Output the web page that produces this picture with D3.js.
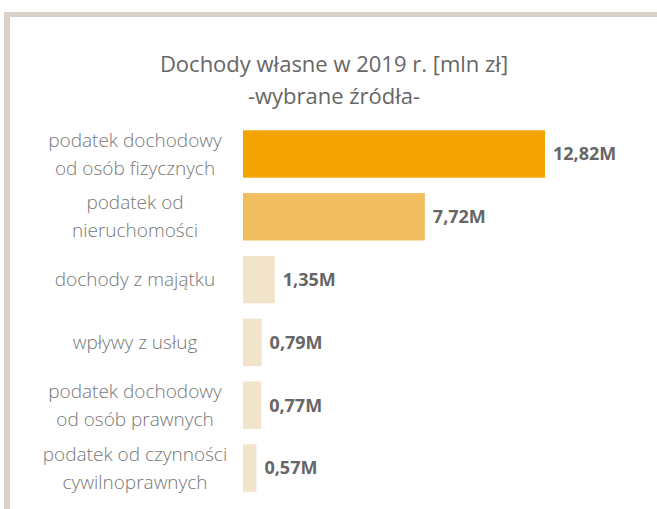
<!DOCTYPE html>
<html>
<head>
<meta charset="utf-8">
<script src="https://cdn.jsdelivr.net/npm/d3@7"></script>
<style>
  html, body { margin: 0; padding: 0; background: #fff; }
  svg { display: block; }
</style>
</head>
<body>
<div id="chart"></div>
<script>
// Own revenues 2019, selected sources (million PLN)
const categories = [
  ["podatek dochodowy", "od osób fizycznych"],
  ["podatek od", "nieruchomości"],
  ["dochody z majątku"],
  ["wpływy z usług"],
  ["podatek dochodowy", "od osób prawnych"],
  ["podatek od czynności", "cywilnoprawnych"]
];
const values = [12.82, 7.72, 1.35, 0.79, 0.77, 0.57];
const valueLabels = ["12,82M", "7,72M", "1,35M", "0,79M", "0,77M", "0,57M"];
const barColors = ["#f4a300", "#f1be5f", "#f2e4cb", "#f2e4cb", "#f2e4cb", "#f2e4cb"];
const titleLines = ["Dochody własne w 2019 r. [mln zł]", "-wybrane źródła-"];

const W = 657, H = 509;
const svg = d3.select("#chart").append("svg")
  .attr("width", W).attr("height", H);

// frame (top and left edges)
svg.append("rect").attr("x", 4).attr("y", 12).attr("width", W - 4).attr("height", 5).attr("fill", "#d8d1c8");
svg.append("rect").attr("x", 4).attr("y", 12).attr("width", 6).attr("height", H - 12).attr("fill", "#d8d1c8");

// title
svg.append("g").selectAll("text").data(titleLines).join("text")
  .attr("x", 334)
  .attr("y", (d, i) => 64 + i * 32)
  .attr("dy", "0.35em")
  .attr("text-anchor", "middle")
  .attr("font-family", "'Open Sans', sans-serif")
  .attr("font-size", 22)
  .attr("fill", "#666")
  .text(d => d);

const idx = d3.range(values.length);
const y = d3.scaleBand().domain(idx).range([124, 498]).paddingInner(0.245).paddingOuter(0.1);
const x = d3.scaleLinear().domain([0, 12.82]).range([243, 545]);

// bars
svg.append("g").selectAll("rect").data(idx).join("rect")
  .attr("x", x(0))
  .attr("y", i => y(i))
  .attr("width", i => x(values[i]) - x(0))
  .attr("height", y.bandwidth())
  .attr("fill", i => barColors[i]);

// value labels
svg.append("g").selectAll("text").data(idx).join("text")
  .attr("x", i => x(values[i]) + 8)
  .attr("y", i => y(i) + y.bandwidth() / 2)
  .attr("dy", "0.35em")
  .attr("font-family", "'Open Sans', sans-serif")
  .attr("font-weight", 700)
  .attr("font-size", 18)
  .attr("fill", "#666")
  .text(i => valueLabels[i]);

// category labels (one or two lines, centred on the bar)
const lineGap = 28;
const cat = svg.append("g").selectAll("text").data(idx).join("text")
  .attr("text-anchor", "middle")
  .attr("font-family", "'Open Sans', sans-serif")
  .attr("font-weight", 300)
  .attr("font-size", 19)
  .attr("fill", "#777");
cat.each(function(i) {
  const lines = categories[i];
  const cy = y(i) + y.bandwidth() / 2;
  const start = cy - (lines.length - 1) * lineGap / 2;
  d3.select(this).selectAll("tspan").data(lines).join("tspan")
    .attr("x", 135)
    .attr("y", (d, k) => start + k * lineGap)
    .attr("dy", "0.35em")
    .text(d => d);
});
</script>
</body>
</html>
